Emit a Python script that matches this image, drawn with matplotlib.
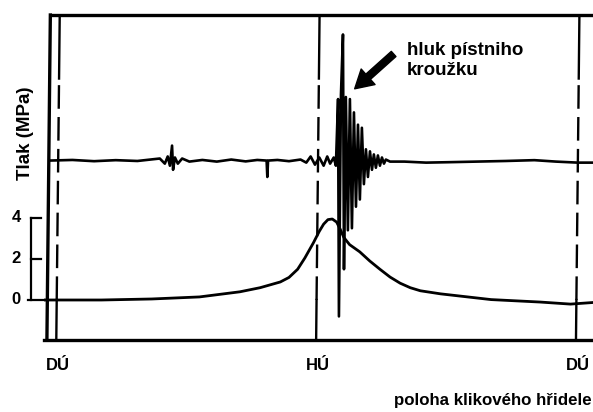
import matplotlib
matplotlib.use("Agg")
import matplotlib.pyplot as plt

plt.rcParams['font.family'] = ['Liberation Sans', 'DejaVu Sans']
plt.rcParams['font.weight'] = 'bold'

# cylinder pressure over the crank angle (deg, MPa)
crank_deg = [-9, 30, 65, 98, 126, 140, 154, 160, 166, 171, 177, 181, 184, 187, 190, 193,
             195.5, 198, 202, 209, 216, 223, 230, 237, 244, 251, 265, 280, 300, 334, 355,
             375]
pressure = [0, 0, 0.05, 0.15, 0.4, 0.6, 0.88, 1.1, 1.5, 2.05, 2.8, 3.35, 3.7, 3.92, 3.95,
            3.8, 3.45, 3.05, 2.7, 2.35, 1.9, 1.5, 1.12, 0.82, 0.6, 0.45, 0.3, 0.18, 0.02,
            -0.1, -0.2, -0.1]

# vibration / noise signal, drawn above the pressure trace
noise_deg = [-6, 10, 25, 40, 55, 64, 70.5, 74, 76, 77.5, 79, 79.7, 81, 83, 86, 91,
             100, 110, 120, 130, 138, 144.5, 145, 145.5, 152, 160, 168, 172, 175, 178,
             181, 184, 186.5, 188.5, 191, 192.5, 194, 194.6, 196, 197.4, 198.1, 199.4,
             200.8, 202.2, 203.6, 205, 206.4, 207.8, 209.1, 210.5, 211.9, 213.3, 214.7,
             216.1, 217.5, 218.8, 220.2, 221.6, 223, 224.4, 225.8, 227.1, 230, 240, 255,
             270, 290, 310, 330, 345, 360, 375]
noise_amp = [0, 0.03, -0.03, 0.02, -0.02, 0.05, 0.1, -0.15, 0.2, -0.25, 0.73, -0.45, 0.15,
             -0.15, 0.1, -0.05, 0.03, -0.05, 0.05, -0.04, 0.03, 0, -0.8, 0, 0.03, -0.03,
             0.05, -0.1, 0.2, -0.2, 0.15, -0.25, 0.2, -0.15, 0.15, -0.25, 3.0, -7.6, 3.2,
             6.15, -5.3, 3.1, -3.4, 3.0, -3.3, 2.35, -2.25, 1.75, -1.9, 1.6, -1.15, 0.55,
             -0.8, 0.45, -0.45, 0.3, -0.35, 0.25, -0.25, 0.15, -0.15, 0.05, -0.05, -0.05,
             -0.1, -0.08, -0.05, -0.02, 0.02, -0.05, -0.1, -0.1]
noise_offset = 6.8

dead_centres = [0, 180, 360]
dead_labels = ['DÚ', 'HÚ', 'DÚ']
scale_ticks = [0, 2, 4]

ymin, ymax = -1.95, 13.9
xmin, xmax = -9.5, 375
slant = 0.15  # deg per MPa, the trace sheet is slightly skewed

fig = plt.figure(figsize=(5.93, 4.12), dpi=100)
ax = fig.add_axes([0.0747, 0.1748, 0.936, 0.7888])
ax.set_xlim(xmin, xmax)
ax.set_ylim(ymin, ymax)
for side in ['left', 'right', 'top']:
    ax.spines[side].set_visible(False)
ax.spines['bottom'].set_linewidth(2.4)
ax.set_yticks([])

ax.set_xticks(dead_centres)
ax.set_xticklabels(dead_labels, fontsize=12, fontweight='bold')
ax.tick_params(axis='x', length=0, pad=13)

ymid = (ymin + ymax) / 2

def xs(x0, y):
    return x0 + slant * (y - ymid)

# frame: top line and left edge
ax.plot([xs(-6.5, ymax), xmax], [ymax, ymax], color='black', lw=2.4, clip_on=False,
        solid_capstyle='butt')
ax.plot([xs(-6.5, ymin), xs(-6.5, ymax)], [ymin, ymax], color='black', lw=2.4,
        clip_on=False)

# dead centre markers: solid at the ends, dashed in between
for x0 in dead_centres:
    ax.plot([xs(x0, 0), xs(x0, ymin)], [0, ymin], color='black', lw=1.7)
    ax.plot([xs(x0, 10.8), xs(x0, ymax)], [10.8, ymax], color='black', lw=1.7)
    ax.plot([xs(x0, 0), xs(x0, 10.8)], [0, 10.8], color='black', lw=1.7,
            dashes=(10, 3.5))

ax.plot(crank_deg, pressure, color='black', lw=2.0)
ax.plot(noise_deg, [noise_offset + a for a in noise_amp], color='black', lw=1.9)

# pressure scale bracket on the left
ax.plot([-18.7, -18.7], [scale_ticks[0], scale_ticks[-1]], color='black', lw=1.6,
        clip_on=False)
ax.plot([-20.5, -8.5], [0, 0], color='black', lw=1.6, clip_on=False)
for v in scale_ticks[1:]:
    ax.plot([-18.7, -12], [v, v], color='black', lw=1.6, clip_on=False)
for v in scale_ticks:
    ax.text(-29, v, str(v), ha='center', va='center', fontsize=12,
            fontweight='bold', clip_on=False)

ax.annotate('', xy=(205.5, 10.3), xytext=(232.5, 12.0),
            arrowprops=dict(facecolor='black', edgecolor='black', width=5,
                            headwidth=15, headlength=13, shrink=0))
ax.text(241.5, 12.6, 'hluk pístniho\nkroužku', ha='left', va='top', fontsize=13.5,
        fontweight='bold', linespacing=1.28)

fig.text(25 / 593, 1 - 133 / 412, 'Tlak (MPa)', rotation=90, ha='center',
         va='center', fontsize=13.5, fontweight='bold')
fig.text(592 / 593, 1 - 400 / 412, 'poloha klikového hřidele', ha='right',
         va='center', fontsize=12.2, fontweight='bold')

fig.savefig('out.png', dpi=100)
